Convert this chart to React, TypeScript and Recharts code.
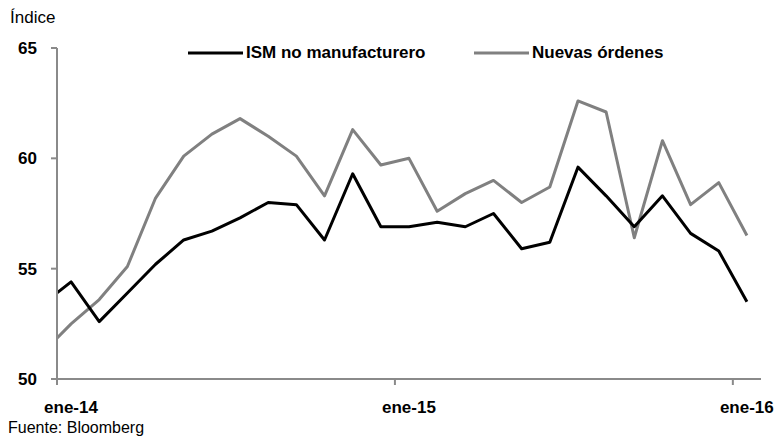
import React from "react";
import { LineChart, Line, XAxis, YAxis } from "recharts";

// monthly values, Dec-13 sits half a month left of the axis and is clipped
const months = [
  "dic-13",
  "ene-14", "feb-14", "mar-14", "abr-14", "may-14", "jun-14",
  "jul-14", "ago-14", "sep-14", "oct-14", "nov-14", "dic-14",
  "ene-15", "feb-15", "mar-15", "abr-15", "may-15", "jun-15",
  "jul-15", "ago-15", "sep-15", "oct-15", "nov-15", "dic-15",
  "ene-16",
];
const ism = [
  53.4,
  54.4, 52.6, 53.9, 55.2, 56.3, 56.7, 57.3, 58.0, 57.9, 56.3, 59.3, 56.9,
  56.9, 57.1, 56.9, 57.5, 55.9, 56.2, 59.6, 58.3, 56.9, 58.3, 56.6, 55.8,
  53.5,
];
const ordenes = [
  51.2,
  52.5, 53.6, 55.1, 58.2, 60.1, 61.1, 61.8, 61.0, 60.1, 58.3, 61.3, 59.7,
  60.0, 57.6, 58.4, 59.0, 58.0, 58.7, 62.6, 62.1, 56.4, 60.8, 57.9, 58.9,
  56.5,
];
const xTickLabels = ["ene-14", "ene-15", "ene-16"];
const yTicks = [50, 55, 60, 65];

const FONT = "'Liberation Sans', Arial, sans-serif";
const AXIS = "#8a8a8a";
const GRAY = "#808080";

// x = months since start of ene-14, points plotted mid-month
const data = months.map((m, i) => ({
  mes: m,
  x: i - 0.5,
  ism: ism[i],
  ordenes: ordenes[i],
}));
const xTicks = xTickLabels.map((l) => months.indexOf(l) - 1);

function XTick(props: any) {
  const { x, y, payload } = props;
  const label = months[payload.value + 1];
  return (
    <text x={x + 14} y={y + 26} textAnchor="middle" fontFamily={FONT} fontWeight="bold" fontSize={17} fill="#000">
      {label}
    </text>
  );
}

function YTick(props: any) {
  const { y, payload } = props;
  return (
    <text x={37} y={y + 6} textAnchor="end" fontFamily={FONT} fontWeight="bold" fontSize={17} fill="#000">
      {payload.value}
    </text>
  );
}

function LegendItem({ left, color, label }: { left: number; color: string; label: string }) {
  return (
    <div style={{ position: "absolute", left, top: 43, display: "flex", alignItems: "center", height: 20 }}>
      <svg width={56} height={6}>
        <line x1={0} y1={3} x2={55} y2={3} stroke={color} strokeWidth={3} />
      </svg>
      <span style={{ marginLeft: 2, fontFamily: FONT, fontWeight: "bold", fontSize: 17, color: "#000", whiteSpace: "nowrap" }}>
        {label}
      </span>
    </div>
  );
}

export default function App() {
  return (
    <div style={{ position: "absolute", left: 0, top: 0, width: 778, height: 438, background: "#fff" }}>
      <div style={{ position: "absolute", left: 10, top: 8, fontFamily: FONT, fontSize: 17, color: "#000" }}>Índice</div>
      <LineChart width={778} height={438} data={data} margin={{ top: 48, right: 17, bottom: 0, left: 0 }}>
        <XAxis
          type="number"
          dataKey="x"
          domain={[0, 25]}
          ticks={xTicks}
          allowDataOverflow
          interval={0}
          height={59}
          tick={<XTick />}
          tickSize={6}
          axisLine={{ stroke: AXIS, strokeWidth: 2 }}
          tickLine={{ stroke: AXIS, strokeWidth: 2 }}
        />
        <YAxis
          type="number"
          domain={[50, 65]}
          ticks={yTicks}
          width={57}
          interval={0}
          tick={<YTick />}
          tickSize={6}
          axisLine={{ stroke: AXIS, strokeWidth: 2 }}
          tickLine={{ stroke: AXIS, strokeWidth: 2 }}
        />
        <Line
          type="linear"
          dataKey="ordenes"
          name="Nuevas órdenes"
          stroke={GRAY}
          strokeWidth={3}
          strokeLinejoin="round"
          dot={false}
          activeDot={false}
          isAnimationActive={false}
        />
        <Line
          type="linear"
          dataKey="ism"
          name="ISM no manufacturero"
          stroke="#000"
          strokeWidth={3}
          strokeLinejoin="round"
          dot={false}
          activeDot={false}
          isAnimationActive={false}
        />
      </LineChart>
      <LegendItem left={188} color="#000" label="ISM no manufacturero" />
      <LegendItem left={474} color={GRAY} label="Nuevas órdenes" />
      <div style={{ position: "absolute", left: 8, top: 419, fontFamily: FONT, fontSize: 16, color: "#000" }}>Fuente: Bloomberg</div>
    </div>
  );
}
